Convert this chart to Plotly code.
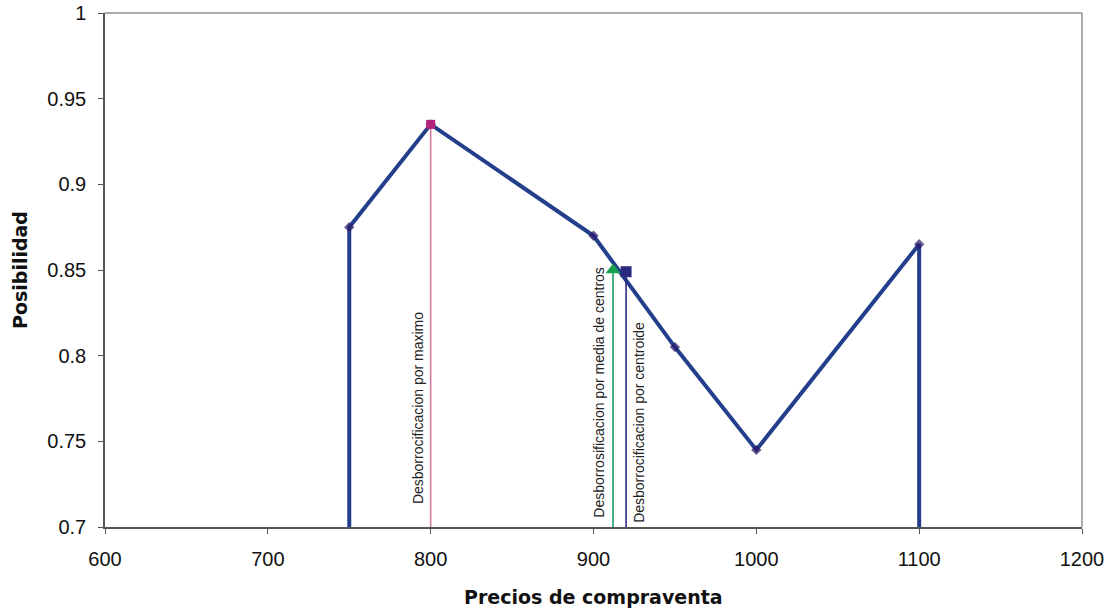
import plotly.graph_objects as go

# Membership function of the purchase price (price, possibility)
precios = [750, 800, 900, 950, 1000, 1100]
posibilidad = [0.875, 0.935, 0.87, 0.805, 0.745, 0.865]
base = 0.7

# Defuzzified values
x_maximo, y_maximo = 800, 0.935
x_media, y_media = 912, 0.85
x_centroide, y_centroide = 920, 0.849

lbl_maximo = "Desborrocificacion por maximo"
lbl_media = "Desborrosificacion por media de centros"
lbl_centroide = "Desborrocificacion por centroide"

x_ticks = [600, 700, 800, 900, 1000, 1100, 1200]
y_ticks = [0.7, 0.75, 0.8, 0.85, 0.9, 0.95, 1]

AZUL = "#233f8c"
SANS = "Liberation Sans, Arial, sans-serif"
fig = go.Figure()

# Closed outline: vertical sides at both ends down to the base
xs = [precios[0]] + precios + [precios[-1]]
ys = [base] + posibilidad + [base]
sizes = [0] + [8] * len(precios) + [0]
fig.add_trace(go.Scatter(
    x=xs, y=ys, mode="lines+markers",
    line=dict(color=AZUL, width=4),
    marker=dict(symbol="diamond", size=sizes, color="#2a1766", line=dict(width=0)),
    hoverinfo="skip", showlegend=False,
))

# Defuzzification markers with their drop lines
for xv, yv, lc, mc, sym, msz in [
    (x_maximo, y_maximo, "#d67ba0", "#b3247c", "square", 9),
    (x_media, y_media, "#1e9a62", "#17a04e", "triangle-up", 13),
    (x_centroide, y_centroide, "#2a2a80", "#2b2a7e", "square", 11),
]:
    fig.add_trace(go.Scatter(
        x=[xv, xv], y=[base, yv], mode="lines",
        line=dict(color=lc, width=1.6),
        hoverinfo="skip", showlegend=False,
    ))
    fig.add_trace(go.Scatter(
        x=[xv], y=[yv], mode="markers",
        marker=dict(symbol=sym, size=msz, color=mc, line=dict(width=0)),
        hoverinfo="skip", showlegend=False,
    ))

lbl_font = dict(family=SANS, size=14, color="#222")
fig.add_annotation(x=x_maximo, y=0.712, text=lbl_maximo, textangle=-90,
                   xanchor="right", yanchor="bottom", xshift=-2, showarrow=False,
                   font=lbl_font)
fig.add_annotation(x=x_media, y=0.704, text=lbl_media, textangle=-90,
                   xanchor="right", yanchor="bottom", xshift=-4, showarrow=False,
                   font=lbl_font)
fig.add_annotation(x=x_centroide, y=0.701, text=lbl_centroide, textangle=-90,
                   xanchor="left", yanchor="bottom", xshift=3, showarrow=False,
                   font=lbl_font)

# Axis titles
title_font = dict(family="DejaVu Sans, sans-serif", size=19, color="#111")
fig.add_annotation(xref="paper", yref="paper", x=0.5, y=0, yshift=-70,
                   xanchor="center", yanchor="middle", showarrow=False,
                   text="<b>Precios de compraventa</b>", font=title_font)
fig.add_annotation(xref="paper", yref="paper", x=0, y=0.5, xshift=-85,
                   xanchor="center", yanchor="middle", showarrow=False, textangle=-90,
                   text="<b>Posibilidad</b>", font=title_font)

# Lighter top and right border of the plot area
for x0, y0, x1, y1 in [(0, 1, 1, 1), (1, 0, 1, 1)]:
    fig.add_shape(type="line", xref="paper", yref="paper", x0=x0, y0=y0, x1=x1, y1=y1,
                  line=dict(color="#8b9096", width=1.5), layer="below")

axis_common = dict(
    showgrid=False, zeroline=False, showline=True, linecolor="#555",
    linewidth=1.5, ticks="outside", ticklen=5, tickcolor="#555",
    ticklabelstandoff=8, automargin=False,
    tickfont=dict(family=SANS, size=20, color="#111"),
)
fig.update_xaxes(
    range=[600, 1200], tickvals=x_ticks, ticktext=[str(v) for v in x_ticks],
    **axis_common,
)
fig.update_yaxes(
    range=[0.7, 1], tickvals=y_ticks, ticktext=[f"{v:g}" for v in y_ticks],
    **axis_common,
)
fig.update_layout(
    width=1114, height=611,
    margin=dict(l=105, r=32, t=13, b=84),
    paper_bgcolor="white", plot_bgcolor="white",
)

fig.write_html("out.html")
